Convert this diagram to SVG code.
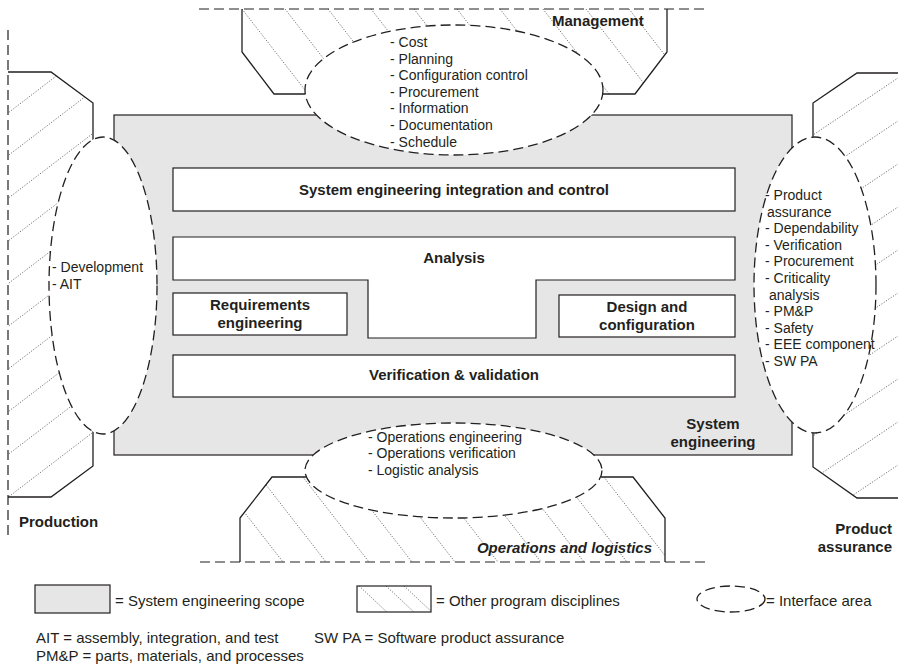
<svg xmlns="http://www.w3.org/2000/svg" width="898" height="668" viewBox="0 0 898 668">
  <style>
    text { font-family: "Liberation Sans", Arial, sans-serif; fill: #231f20; }
    .t { font-size: 14px; }
    .b { font-size: 15px; font-weight: bold; }
    .lg { font-size: 15px; }
    .scope { fill: #e6e6e7; stroke: #231f20; stroke-width: 1.2; }
    .box { fill: #ffffff; stroke: #231f20; stroke-width: 1.2; }
    .edge { fill: none; stroke: #231f20; stroke-width: 1.3; }
    .bound { fill: none; stroke: #231f20; stroke-width: 1.2; stroke-dasharray: 10 5; }
    .iface { fill: #ffffff; stroke: #231f20; stroke-width: 1.3; stroke-dasharray: 10 5; }
    .hatch { fill: none; stroke: #333333; stroke-width: 0.7; stroke-dasharray: 1.2 1.6; }
  </style>
  <defs>
    <clipPath id="clip-top"><polygon points="242,9 242,52 274,94 635,94 667,52 667,9"/></clipPath>
    <clipPath id="clip-bottom"><polygon points="240,562 240,518 272,477 633,477 665,518 665,562"/></clipPath>
    <clipPath id="clip-left"><polygon points="8,72 51,72 93,103 93,466 51,497 8,497"/></clipPath>
    <clipPath id="clip-right"><polygon points="813,103 857,73 898,73 898,498 857,498 813,467"/></clipPath>
    <clipPath id="clip-legend"><rect x="357" y="586" width="74" height="26"/></clipPath>
  </defs>

  <!-- System engineering scope -->
  <g id="scope">
    <rect class="scope" x="114" y="115" width="678" height="340"/>
  </g>

  <!-- Management discipline (top) -->
  <g id="management">
    <g class="hatch" clip-path="url(#clip-top)">
      <line x1="242" y1="9" x2="312" y2="99"/>
      <line x1="285" y1="9" x2="355" y2="99"/>
      <line x1="328" y1="9" x2="398" y2="99"/>
      <line x1="371" y1="9" x2="441" y2="99"/>
      <line x1="414" y1="9" x2="484" y2="99"/>
      <line x1="457" y1="9" x2="527" y2="99"/>
      <line x1="500" y1="9" x2="570" y2="99"/>
      <line x1="543" y1="9" x2="613" y2="99"/>
      <line x1="586" y1="9" x2="656" y2="99"/>
      <line x1="629" y1="9" x2="699" y2="99"/>
    </g>
    <line class="bound" x1="199" y1="9" x2="708" y2="9"/>
    <polyline class="edge" points="242,9 242,52 274,94 306,94"/>
    <polyline class="edge" points="602,94 635,94 667,52 667,9"/>
  </g>

  <!-- Operations and logistics discipline (bottom) -->
  <g id="operations">
    <g class="hatch" clip-path="url(#clip-bottom)">
      <line x1="213" y1="472" x2="283" y2="562"/>
      <line x1="256" y1="472" x2="326" y2="562"/>
      <line x1="299" y1="472" x2="369" y2="562"/>
      <line x1="342" y1="472" x2="412" y2="562"/>
      <line x1="385" y1="472" x2="455" y2="562"/>
      <line x1="428" y1="472" x2="498" y2="562"/>
      <line x1="471" y1="472" x2="541" y2="562"/>
      <line x1="514" y1="472" x2="584" y2="562"/>
      <line x1="557" y1="472" x2="627" y2="562"/>
      <line x1="600" y1="472" x2="670" y2="562"/>
    </g>
    <line class="bound" x1="200" y1="562" x2="708" y2="562"/>
    <polyline class="edge" points="240,562 240,518 272,477 306,477"/>
    <polyline class="edge" points="601,477 633,477 665,518 665,562"/>
  </g>

  <!-- Production discipline (left) -->
  <g id="production">
    <g class="hatch" clip-path="url(#clip-left)">
      <line x1="0" y1="119.1" x2="100" y2="42.6"/>
      <line x1="0" y1="161.8" x2="100" y2="85.3"/>
      <line x1="0" y1="204.5" x2="100" y2="128"/>
      <line x1="0" y1="247.2" x2="100" y2="170.7"/>
      <line x1="0" y1="289.9" x2="100" y2="213.4"/>
      <line x1="0" y1="332.6" x2="100" y2="256.1"/>
      <line x1="0" y1="375.3" x2="100" y2="298.8"/>
      <line x1="0" y1="418" x2="100" y2="341.5"/>
      <line x1="0" y1="460.7" x2="100" y2="384.2"/>
      <line x1="0" y1="503.4" x2="100" y2="426.9"/>
    </g>
    <line class="bound" x1="8" y1="30" x2="8" y2="540"/>
    <polyline class="edge" points="8,72 51,72 93,103 93,140"/>
    <polyline class="edge" points="93,431 93,466 51,497 8,497"/>
  </g>

  <!-- Product assurance discipline (right) -->
  <g id="product-assurance">
    <g class="hatch" clip-path="url(#clip-right)">
      <line x1="800" y1="143.7" x2="898" y2="78"/>
      <line x1="800" y1="186.7" x2="898" y2="121"/>
      <line x1="800" y1="229.7" x2="898" y2="164"/>
      <line x1="800" y1="272.7" x2="898" y2="207"/>
      <line x1="800" y1="315.7" x2="898" y2="250"/>
      <line x1="800" y1="358.7" x2="898" y2="293"/>
      <line x1="800" y1="401.7" x2="898" y2="336"/>
      <line x1="800" y1="444.7" x2="898" y2="379"/>
      <line x1="800" y1="487.7" x2="898" y2="422"/>
      <line x1="800" y1="530.7" x2="898" y2="465"/>
    </g>
    <polyline class="edge" points="898,73 857,73 813,103 813,138"/>
    <polyline class="edge" points="813,432 813,467 857,498 898,498"/>
  </g>

  <!-- Interface areas -->
  <g id="iface-management">
    <ellipse class="iface" cx="454" cy="90" rx="149" ry="65"/>
    <text class="t" x="390" y="47">- Cost</text>
    <text class="t" x="390" y="63.6">- Planning</text>
    <text class="t" x="390" y="80.2">- Configuration control</text>
    <text class="t" x="390" y="96.8">- Procurement</text>
    <text class="t" x="390" y="113.4">- Information</text>
    <text class="t" x="390" y="130">- Documentation</text>
    <text class="t" x="390" y="146.6">- Schedule</text>
  </g>
  <g id="iface-production">
    <ellipse class="iface" cx="103" cy="285.5" rx="54" ry="148.5"/>
    <text class="t" x="52" y="272">- Development</text>
    <text class="t" x="52" y="289">- AIT</text>
  </g>
  <g id="iface-product-assurance">
    <ellipse class="iface" cx="815" cy="285" rx="61" ry="148"/>
    <text class="t" x="765" y="200">- Product</text>
    <text class="t" x="767" y="216.6">assurance</text>
    <text class="t" x="765" y="233.2">- Dependability</text>
    <text class="t" x="765" y="249.8">- Verification</text>
    <text class="t" x="765" y="266.4">- Procurement</text>
    <text class="t" x="765" y="283">- Criticality</text>
    <text class="t" x="769" y="299.6">analysis</text>
    <text class="t" x="765" y="316.2">- PM&amp;P</text>
    <text class="t" x="765" y="332.8">- Safety</text>
    <text class="t" x="765" y="349.4">- EEE component</text>
    <text class="t" x="765" y="366">- SW PA</text>
  </g>
  <g id="iface-operations">
    <ellipse class="iface" cx="453.5" cy="470.5" rx="148.5" ry="47.5"/>
    <text class="t" x="368" y="441.5">- Operations engineering</text>
    <text class="t" x="368" y="458">- Operations verification</text>
    <text class="t" x="368" y="474.6">- Logistic analysis</text>
  </g>

  <!-- System engineering functions -->
  <g id="integration-control">
    <rect class="box" x="173" y="168" width="562" height="43"/>
    <text class="b" x="454" y="195" text-anchor="middle">System engineering integration and control</text>
  </g>
  <g id="analysis">
    <path class="box" d="M173,237 H735 V280 H536 V338 H368 V280 H173 Z"/>
    <text class="b" x="454" y="263" text-anchor="middle">Analysis</text>
  </g>
  <g id="requirements">
    <rect class="box" x="173" y="293" width="174" height="42"/>
    <text class="b" x="260" y="309.5" text-anchor="middle">Requirements</text>
    <text class="b" x="260" y="327.5" text-anchor="middle">engineering</text>
  </g>
  <g id="design">
    <rect class="box" x="559" y="295" width="176" height="42"/>
    <text class="b" x="647" y="311.5" text-anchor="middle">Design and</text>
    <text class="b" x="647" y="329.5" text-anchor="middle">configuration</text>
  </g>
  <g id="verification">
    <rect class="box" x="173" y="355" width="562" height="42"/>
    <text class="b" x="454" y="380" text-anchor="middle">Verification &amp; validation</text>
  </g>

  <!-- Discipline names -->
  <g id="labels">
    <text class="b" x="713" y="429" text-anchor="middle">System</text>
    <text class="b" x="713" y="447" text-anchor="middle">engineering</text>
    <text class="b" x="552" y="26">Management</text>
    <text class="b" x="19" y="527">Production</text>
    <text class="b" x="892" y="534" text-anchor="end">Product</text>
    <text class="b" x="892" y="552" text-anchor="end">assurance</text>
    <text class="b" x="652" y="553" text-anchor="end" font-style="italic">Operations and logistics</text>
  </g>

  <!-- Legend -->
  <g id="legend">
    <rect class="scope" x="35" y="585" width="75" height="28"/>
    <text class="lg" x="115" y="606">= System engineering scope</text>
    <g class="hatch" clip-path="url(#clip-legend)">
      <line x1="357" y1="584" x2="389" y2="614"/>
      <line x1="384" y1="584" x2="416" y2="614"/>
      <line x1="402" y1="584" x2="434" y2="614"/>
    </g>
    <rect x="357" y="586" width="74" height="26" fill="none" stroke="#231f20" stroke-width="1.2"/>
    <text class="lg" x="436" y="606">= Other program disciplines</text>
    <ellipse class="iface" cx="731" cy="599" rx="34" ry="13" stroke-dasharray="8 5"/>
    <text class="lg" x="766" y="606">= Interface area</text>
    <text class="lg" x="36" y="643">AIT = assembly, integration, and test</text>
    <text class="lg" x="314" y="643">SW PA = Software product assurance</text>
    <text class="lg" x="36" y="661">PM&amp;P = parts, materials, and processes</text>
  </g>
</svg>
